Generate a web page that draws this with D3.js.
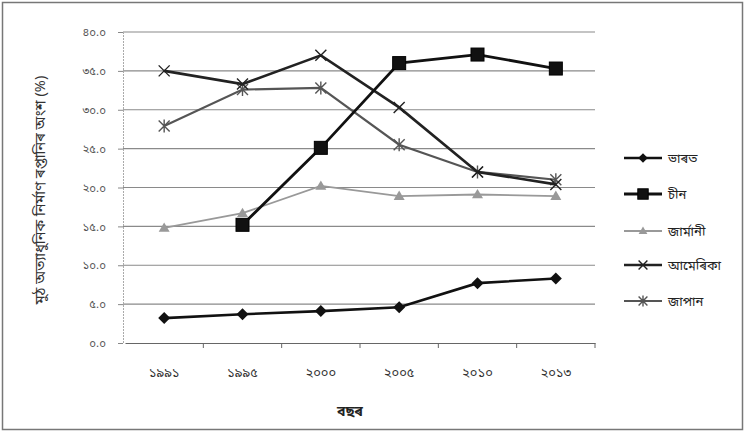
<!DOCTYPE html>
<html><head><meta charset="utf-8">
<script src="https://cdn.jsdelivr.net/npm/d3@7"></script>
<style>body{margin:0;background:#fff}svg{display:block}text{font-family:"Noto Sans","Noto Sans Bengali","Lohit Bengali","Vrinda",sans-serif}</style>
</head><body><svg id="c" width="745" height="433"></svg>
<script>
const years = ["১৯৯১","১৯৯৫","২০০০","২০০৫","২০১০","২০১৩"];
const yTicks = [0,5,10,15,20,25,30,35,40];
const yTickLabels = ["০.০","৫.০","১০.০","১৫.০","২০.০","২৫.০","৩০.০","৩৫.০","৪০.০"];
const seriesNames = ["ভাৰত","চীন","জাৰ্মানী","আমেৰিকা","জাপান"];
const india   = [3.2, 3.7, 4.1, 4.6, 7.7, 8.3];
const china   = [null, 15.2, 25.1, 36.0, 37.1, 35.3];
const germany = [14.8, 16.7, 20.2, 18.9, 19.1, 18.9];
const usa     = [35.0, 33.3, 37.0, 30.3, 22.0, 20.4];
const japan   = [27.9, 32.6, 32.8, 25.5, 22.0, 21.0];
const yLabel = "মুঠ অত্যাধুনিক নিৰ্মাণ ৰপ্তানিৰ অংশ (%)";
const xLabel = "বছৰ";

const data = [india, china, germany, usa, japan];
const colors = ["#111","#111","#999","#222","#555"];
const widths = [2.6,2.8,1.8,2.6,2.2];
const markers = ["diamond","square","triangle","x","star"];

const svg = d3.select("#c");
svg.append("rect").attr("x",2.5).attr("y",2.5).attr("width",740).attr("height",427)
  .attr("fill","none").attr("stroke","#777").attr("stroke-width",1.5);

const x = d3.scaleBand().domain(years).range([125,595]);
const y = d3.scaleLinear().domain([0,40]).range([343,32]);

svg.append("g").selectAll("line").data(yTicks.slice(1)).join("line")
  .attr("x1",123).attr("x2",595).attr("y1",d=>y(d)).attr("y2",d=>y(d))
  .attr("stroke","#8a8a8a").attr("stroke-width",1.1);

const ya = svg.append("g").attr("transform","translate(123,0)")
  .call(d3.axisLeft(y).tickValues(yTicks).tickFormat((d,i)=>yTickLabels[i]).tickSize(5).tickPadding(12));
ya.select(".domain").attr("stroke","#aaa").attr("stroke-dasharray","2,1");
ya.selectAll(".tick line").attr("stroke","#888");
ya.selectAll("text").attr("font-size",11.5).attr("fill","#555");

const xa = svg.append("g").attr("transform","translate(0,343)")
  .call(d3.axisBottom(x).tickSize(0).tickPadding(25));
xa.select(".domain").attr("stroke","#666").attr("stroke-width",1.2);
xa.selectAll("text").attr("font-size",13).attr("fill","#333");
svg.append("g").selectAll("line").data(years).join("line")
  .attr("x1",d=>x(d)+x.bandwidth()).attr("x2",d=>x(d)+x.bandwidth())
  .attr("y1",343).attr("y2",348).attr("stroke","#666");

svg.append("text").attr("x",350).attr("y",416).attr("text-anchor","middle")
  .attr("font-size",14).attr("font-weight","bold").attr("fill","#222").text(xLabel);
svg.append("text").attr("transform","translate(45,190) rotate(-90)").attr("text-anchor","middle")
  .attr("font-size",14.5).attr("fill","#333").text(yLabel);

function marker(g, type, cx, cy, col, s){
  if(type==="diamond"){
    g.append("path").attr("d",`M${cx},${cy-s}L${cx+s},${cy}L${cx},${cy+s}L${cx-s},${cy}Z`).attr("fill",col);
  } else if(type==="square"){
    g.append("rect").attr("x",cx-s).attr("y",cy-s).attr("width",2*s).attr("height",2*s).attr("fill",col).attr("stroke","#000");
  } else if(type==="triangle"){
    g.append("path").attr("d",`M${cx},${cy-s}L${cx+s},${cy+s*0.7}L${cx-s},${cy+s*0.7}Z`).attr("fill",col);
  } else if(type==="x"){
    g.append("path").attr("d",`M${cx-s},${cy-s}L${cx+s},${cy+s}M${cx-s},${cy+s}L${cx+s},${cy-s}`).attr("stroke",col).attr("stroke-width",1.4);
  } else {
    g.append("path").attr("d",`M${cx-s},${cy-s}L${cx+s},${cy+s}M${cx-s},${cy+s}L${cx+s},${cy-s}M${cx},${cy-s-1}L${cx},${cy+s+1}`).attr("stroke",col).attr("stroke-width",1.4);
  }
}
const sizes = [6,6.5,5.5,5.5,5.5];

const line = d3.line().defined(d=>d!=null).x((d,i)=>x(years[i])+x.bandwidth()/2).y(d=>y(d));
[2,4,3,0,1].forEach(si=>{
  const vals = data[si];
  const g = svg.append("g");
  g.append("path").datum(vals).attr("d",line).attr("fill","none")
    .attr("stroke",colors[si]).attr("stroke-width",widths[si]);
  vals.forEach((v,i)=>{ if(v!=null) marker(g, markers[si], x(years[i])+x.bandwidth()/2, y(v), colors[si], sizes[si]); });
});

const ly = [158,194,231,265,301];
seriesNames.forEach((n,si)=>{
  const g = svg.append("g");
  g.append("line").attr("x1",624).attr("x2",662).attr("y1",ly[si]).attr("y2",ly[si])
    .attr("stroke",colors[si]).attr("stroke-width",widths[si]);
  marker(g, markers[si], 643, ly[si], colors[si], sizes[si]*0.8);
  g.append("text").attr("x",668).attr("y",ly[si]+5).attr("font-size",13).attr("fill","#222").text(n);
});
</script></body></html>
